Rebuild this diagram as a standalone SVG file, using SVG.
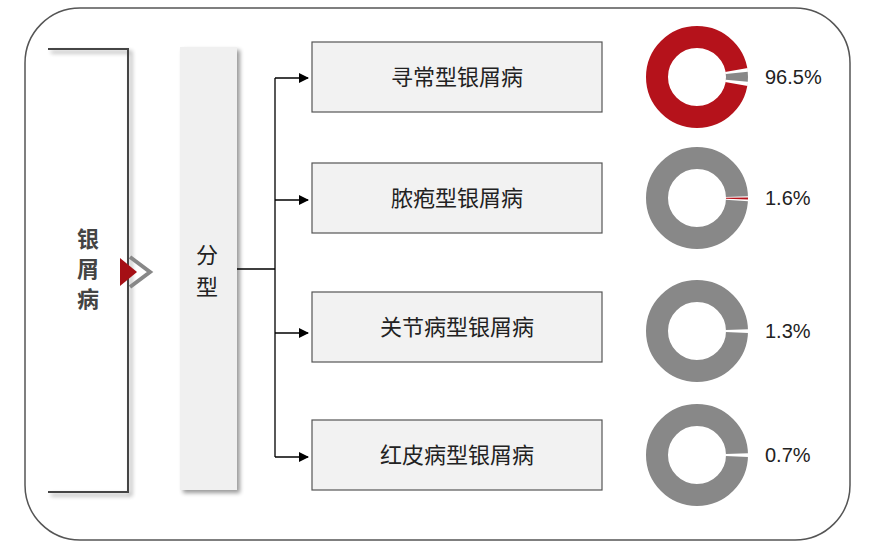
<svg xmlns="http://www.w3.org/2000/svg" width="880" height="549" viewBox="0 0 880 549">
<defs>
<marker id="ar" markerWidth="10" markerHeight="10" refX="9" refY="5" orient="auto" markerUnits="userSpaceOnUse"><path d="M0,0 L10,5 L0,10 Z" fill="#000"/></marker>
<filter id="sh" x="-20%" y="-5%" width="150%" height="115%"><feGaussianBlur in="SourceAlpha" stdDeviation="2"/><feOffset dx="3" dy="3"/><feComponentTransfer><feFuncA type="linear" slope="0.4"/></feComponentTransfer><feMerge><feMergeNode/><feMergeNode in="SourceGraphic"/></feMerge></filter>
</defs>
<style>
.box{fill:#f2f2f2;stroke:#555;stroke-width:1.2}
.t{font-family:"Noto Sans CJK SC",sans-serif;font-size:22px;fill:#222;text-anchor:middle}
.p{font-family:"Liberation Sans",sans-serif;font-size:20px;fill:#222}
.c{stroke:#000;stroke-width:1.3;fill:none}
</style>
<rect x="25" y="8" width="825" height="532" rx="55" fill="#fff" stroke="#555" stroke-width="1.5"/>
<g id="root">
<path d="M48,49 H128 V492 H48" fill="none" stroke="#444" stroke-width="2" filter="url(#sh)"/>
<text x="88" y="247" class="t" style="font-weight:bold;fill:#444">银</text>
<text x="88" y="277" class="t" style="font-weight:bold;fill:#444">屑</text>
<text x="88" y="307" class="t" style="font-weight:bold;fill:#444">病</text>
<path d="M120,258 L137,272 L120,286 Z" fill="#a50f15"/>
<path d="M130,257 L150,272 L130,287" fill="none" stroke="#888" stroke-width="4"/>
</g>
<g id="type">
<rect x="180" y="47" width="57" height="443" fill="#f0f0f0" filter="url(#sh)"/>
<text x="207" y="263" class="t">分</text>
<text x="207" y="295" class="t">型</text>
</g>
<g id="connectors">
<path class="c" d="M237,269 H275 M275,78 V457"/>
<path class="c" d="M275,78 H308" marker-end="url(#ar)"/>
<path class="c" d="M275,200 H308" marker-end="url(#ar)"/>
<path class="c" d="M275,333 H308" marker-end="url(#ar)"/>
<path class="c" d="M275,457 H308" marker-end="url(#ar)"/>
</g>
<g id="n1"><rect class="box" x="312" y="42" width="290" height="70"/><text x="457" y="85" class="t">寻常型银屑病</text></g>
<g id="n2"><rect class="box" x="312" y="163" width="290" height="70"/><text x="457" y="206" class="t">脓疱型银屑病</text></g>
<g id="n3"><rect class="box" x="312" y="292" width="290" height="70"/><text x="457" y="335" class="t">关节病型银屑病</text></g>
<g id="n4"><rect class="box" x="312" y="420" width="290" height="70"/><text x="457" y="463" class="t">红皮病型银屑病</text></g>
<g id="d1">
<circle cx="697" cy="77" r="40" fill="none" stroke="#b5121b" stroke-width="22"/>
<circle cx="697" cy="77" r="40" fill="none" stroke="#fff" stroke-width="23" stroke-dasharray="14 300" transform="rotate(-10 697 77)"/>
<circle cx="697" cy="77" r="40" fill="none" stroke="#888" stroke-width="22" stroke-dasharray="8 300" transform="rotate(-6 697 77)"/>
<text x="765" y="84" class="p">96.5%</text>
</g>
<g id="d2">
<circle cx="697" cy="198" r="40" fill="none" stroke="#888" stroke-width="22"/>
<circle cx="697" cy="198" r="40" fill="none" stroke="#fff" stroke-width="23" stroke-dasharray="4 300" transform="rotate(-2 697 198)"/>
<circle cx="697" cy="198" r="40" fill="none" stroke="#b5121b" stroke-width="22" stroke-dasharray="1.5 300" transform="rotate(-0.5 697 198)"/>
<text x="765" y="205" class="p">1.6%</text>
</g>
<g id="d3">
<circle cx="697" cy="331" r="40" fill="none" stroke="#888" stroke-width="22"/>
<circle cx="697" cy="331" r="40" fill="none" stroke="#fff" stroke-width="23" stroke-dasharray="3 300" transform="rotate(-2 697 331)"/>
<text x="765" y="338" class="p">1.3%</text>
</g>
<g id="d4">
<circle cx="697" cy="455" r="40" fill="none" stroke="#888" stroke-width="22"/>
<circle cx="697" cy="455" r="40" fill="none" stroke="#fff" stroke-width="23" stroke-dasharray="3 300" transform="rotate(-2 697 455)"/>
<text x="765" y="462" class="p">0.7%</text>
</g>
</svg>
